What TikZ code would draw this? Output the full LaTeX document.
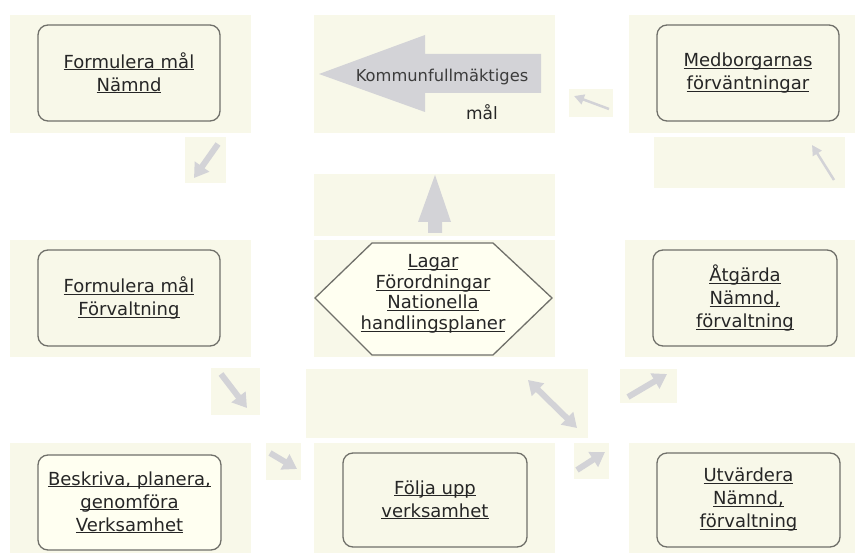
\documentclass[tikz,border=0pt]{standalone}
\usepackage{fontspec}
\setmainfont{DejaVu Sans}
\usepackage{xcolor}
\usetikzlibrary{arrows.meta, positioning}

\definecolor{cellbg}{RGB}{248,248,233}
\definecolor{boxfill}{RGB}{255,255,241}
\definecolor{arrowgray}{RGB}{211,211,215}
\definecolor{framegray}{RGB}{112,112,106}
\definecolor{textgray}{RGB}{38,38,38}

% underlined line of text
\newcommand{\ulline}[1]{\setbox0\hbox{#1}\rlap{\textcolor{textgray}{\rule[-2pt]{\wd0}{0.9pt}}}\box0}

\begin{document}
\begin{tikzpicture}[
            x=1pt, y=-1pt,
            cell/.style={fill=cellbg},
            box/.style={draw=framegray, line width=1.3pt, rounded corners=10pt, fill=cellbg,
                minimum width=182pt, minimum height=96pt, align=center, text=textgray,
                font=\fontsize{18}{23}\selectfont},
            fatarrow/.style={draw=arrowgray, line width=6pt, -{Triangle[width=17pt, length=14pt]}},
            thinarrow/.style={draw=arrowgray, line width=2.5pt, -{Triangle[width=10pt, length=10pt]}},
        ]
            \useasboundingbox (0,0) rectangle (856,553);

            % background cells
            \fill[cell] (10,15) rectangle (251,133);
            \fill[cell] (314,15) rectangle (555,133);
            \fill[cell] (629,15) rectangle (855,133);
            \fill[cell] (185,137) rectangle (226,183);
            \fill[cell] (569,89) rectangle (613,117);
            \fill[cell] (654,137) rectangle (845,188);
            \fill[cell] (314,174) rectangle (555,236);
            \fill[cell] (10,240) rectangle (251,357);
            \fill[cell] (314,240) rectangle (555,357);
            \fill[cell] (625,240) rectangle (855,357);
            \fill[cell] (211,368) rectangle (260,415);
            \fill[cell] (306,369) rectangle (588,438);
            \fill[cell] (620,369) rectangle (677,403);
            \fill[cell] (10,443) rectangle (251,553);
            \fill[cell] (266,443) rectangle (301,480);
            \fill[cell] (314,443) rectangle (555,553);
            \fill[cell] (574,443) rectangle (609,479);
            \fill[cell] (629,443) rectangle (855,553);

            % boxes
            \node[box] (malnamnd) at (129,73) {\ulline{Formulera mål}\\\ulline{Nämnd}};
            \node[box] (medborg) at (748,73) {\ulline{Medborgarnas}\\\ulline{förväntningar}};
            \node[box] (malforv) at (129,298) {\ulline{Formulera mål}\\\ulline{Förvaltning}};
            \node[box, minimum width=184pt] (atgarda) at (745,298) {\ulline{Åtgärda}\\\ulline{Nämnd,}\\\ulline{förvaltning}};
            \node[box, fill=boxfill, minimum width=183pt, minimum height=95pt] (beskriva) at (129.5,502.5)
                {\ulline{Beskriva, planera,}\\\ulline{genomföra}\\\ulline{Verksamhet}};
            \node[box, minimum width=184pt, minimum height=94pt] (folja) at (435,500) {\ulline{Följa upp}\\\ulline{verksamhet}};
            \node[box, minimum width=183pt, minimum height=94pt] (utvardera) at (748.5,500)
                {\ulline{Utvärdera}\\\ulline{Nämnd,}\\\ulline{förvaltning}};

            % hexagon
            \draw[draw=framegray, line width=1.3pt, fill=boxfill]
                (315,298) -- (372,243) -- (493,243) -- (552,298) -- (493,355) -- (372,355) -- cycle;
            \node[align=center, text=textgray, font=\fontsize{18}{20.5}\selectfont] (lagar) at (433,294)
                {\ulline{Lagar}\\\ulline{Förordningar}\\\ulline{Nationella}\\\ulline{handlingsplaner}};

            % big arrows
            \fill[arrowgray] (541,54) -- (425,54) -- (425,35) -- (319,74) -- (425,112) -- (425,93) -- (541,93) -- cycle;
            \fill[arrowgray] (435,175) -- (451,222) -- (442,222) -- (442,233) -- (428,233) -- (428,222) -- (418,222) -- cycle;
            \node[anchor=base, text=textgray!90, font=\fontsize{16.3}{20}\selectfont] (kf) at (442,82) {Kommunfullmäktiges};
            \node[anchor=base, text=textgray, font=\fontsize{17}{20}\selectfont] (kfmal) at (482,120) {mål};

            % small arrows
            \coordinate (a1s) at (218,144);
            \coordinate (a1e) at (194,178);
            \coordinate (a2s) at (609,109);
            \coordinate (a2e) at (574,96);
            \coordinate (a3s) at (834,180);
            \coordinate (a3e) at (812,145);
            \coordinate (a4s) at (221,374);
            \coordinate (a4e) at (247,408);
            \coordinate (a5s) at (628,397);
            \coordinate (a5e) at (667,374);
            \coordinate (a6s) at (270,453);
            \coordinate (a6e) at (297,469);
            \coordinate (a7s) at (577,470);
            \coordinate (a7e) at (605,452);
            \coordinate (dbls) at (528,380);
            \coordinate (dble) at (577,428);

            \draw[fatarrow] (a1s) -- (a1e);
            \draw[thinarrow] (a2s) -- (a2e);
            \draw[thinarrow] (a3s) -- (a3e);
            \draw[fatarrow] (a4s) -- (a4e);
            \draw[fatarrow] (a5s) -- (a5e);
            \draw[fatarrow] (a6s) -- (a6e);
            \draw[fatarrow] (a7s) -- (a7e);
            \draw[fatarrow, {Triangle[width=17pt, length=14pt]}-{Triangle[width=17pt, length=14pt]}] (dbls) -- (dble);
        \end{tikzpicture}
\end{document}
